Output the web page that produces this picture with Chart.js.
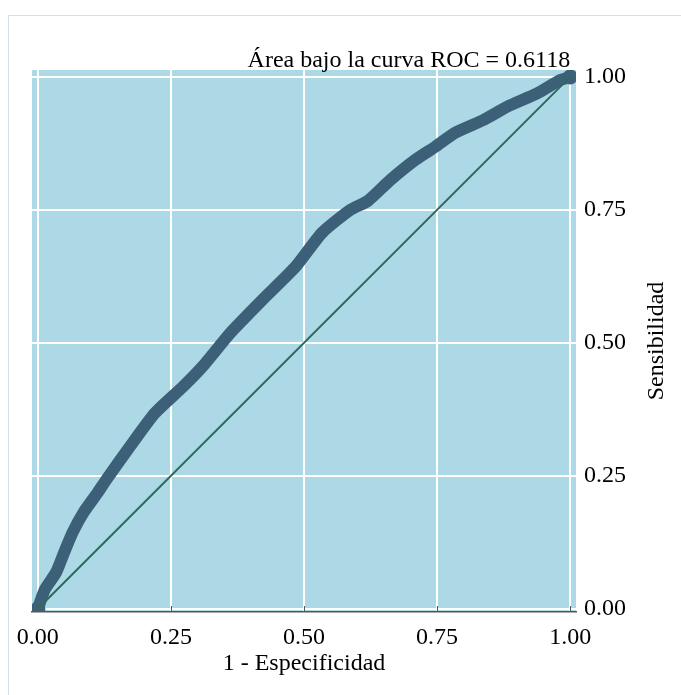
<!DOCTYPE html>
<html lang="es">
<head>
  <meta charset="UTF-8">
  <title>Curva ROC</title>
  <script src="https://cdn.jsdelivr.net/npm/chart.js"></script>
  <style>
    body {
      margin: 0;
      background: #ffffff;
    }
    .frame {
      position: absolute;
      left: 8px;
      top: 15px;
      width: 700px;
      height: 700px;
      border-left: 1px solid #d5dfe9;
      border-top: 1px solid #d5dfe9;
    }
    .chart-box {
      position: absolute;
      left: 0;
      top: 0;
      width: 681px;
      height: 695px;
    }
  </style>
</head>
<body>
  <div class="frame"></div>
  <div class="chart-box">
    <canvas id="rocChart"></canvas>
  </div>

  <script>
    // curve (1 - especificidad, sensibilidad)
    const fpr = [0, 0.013, 0.034, 0.049, 0.065, 0.085, 0.112, 0.128, 0.173, 0.22, 0.272, 0.309, 0.362, 0.422,
                 0.484, 0.534, 0.587, 0.62, 0.662, 0.709, 0.747, 0.784, 0.837, 0.882, 0.938, 0.981, 1];
    const tpr = [0, 0.036, 0.068, 0.105, 0.143, 0.18, 0.218, 0.242, 0.305, 0.368, 0.417, 0.455, 0.519, 0.581,
                 0.643, 0.707, 0.75, 0.767, 0.806, 0.844, 0.869, 0.895, 0.919, 0.944, 0.969, 0.994, 1];
    const diagX = [0, 1];
    const diagY = [0, 1];
    const tickValues = [0, 0.25, 0.5, 0.75, 1];
    const aucText = 'Área bajo la curva ROC = 0.6118';
    const xTitle = '1 - Especificidad';
    const yTitle = 'Sensibilidad';

    const serif = '"Liberation Serif", "DejaVu Serif", serif';

    const rocPoints = fpr.map((x, i) => ({ x: x, y: tpr[i] }));
    const diagPoints = diagX.map((x, i) => ({ x: x, y: diagY[i] }));

    const panelPlugin = {
      id: 'panel',
      beforeDraw(chart) {
        const a = chart.chartArea;
        const ctx = chart.ctx;
        ctx.save();
        ctx.fillStyle = '#add8e6';
        ctx.fillRect(a.left, a.top, a.right - a.left, a.bottom - a.top);
        ctx.restore();
      },
      afterDatasetsDraw(chart) {
        const ctx = chart.ctx;
        const a = chart.chartArea;
        const xs = chart.scales.x;
        // small inward ticks on the bottom axis
        ctx.save();
        ctx.strokeStyle = '#555555';
        ctx.lineWidth = 1;
        tickValues.forEach(v => {
          const px = Math.round(xs.getPixelForValue(v)) + 0.5;
          ctx.beginPath();
          ctx.moveTo(px, a.bottom);
          ctx.lineTo(px, a.bottom - 6);
          ctx.stroke();
        });
        ctx.restore();
      },
      afterDraw(chart) {
        const ctx = chart.ctx;
        const a = chart.chartArea;
        const xs = chart.scales.x;
        ctx.save();
        ctx.fillStyle = '#000000';
        ctx.font = '24px ' + serif;
        ctx.textAlign = 'right';
        ctx.textBaseline = 'alphabetic';
        ctx.fillText(aucText, xs.getPixelForValue(1), a.top - 3);

        ctx.translate(657, (a.top + a.bottom) / 2);
        ctx.rotate(-Math.PI / 2);
        ctx.textAlign = 'center';
        ctx.textBaseline = 'middle';
        ctx.fillText(yTitle, 0, 0);
        ctx.restore();
      }
    };

    new Chart(document.getElementById('rocChart').getContext('2d'), {
      type: 'line',
      data: {
        datasets: [{
          label: 'Azar',
          data: diagPoints,
          borderColor: '#2a6b5a',
          borderWidth: 2,
          pointRadius: 0,
          fill: false
        }, {
          label: 'ROC',
          data: rocPoints,
          borderColor: '#3d6079',
          backgroundColor: '#3d6079',
          borderWidth: 12,
          borderCapStyle: 'round',
          borderJoinStyle: 'round',
          tension: 0.2,
          pointRadius: ctx => (ctx.dataIndex === 0 || ctx.dataIndex === fpr.length - 1) ? 7.5 : 0,
          pointBorderWidth: 0,
          pointBackgroundColor: '#3d6079',
          fill: false
        }]
      },
      options: {
        responsive: true,
        maintainAspectRatio: false,
        animation: false,
        layout: { padding: { top: 70, left: 32, right: 0, bottom: 0 } },
        plugins: {
          legend: { display: false },
          tooltip: { enabled: false }
        },
        scales: {
          x: {
            type: 'linear',
            min: -0.011,
            max: 1.011,
            afterBuildTicks: s => { s.ticks = tickValues.map(v => ({ value: v })); },
            afterFit: s => { s.height = 83; },
            ticks: {
              callback: v => v.toFixed(2),
              color: '#000000',
              font: { family: serif, size: 24 },
              padding: 11,
              maxRotation: 0
            },
            grid: { color: '#ffffff', lineWidth: 2, drawTicks: false },
            border: { display: true, color: '#555555', width: 1.5 },
            title: {
              display: true,
              text: xTitle,
              color: '#000000',
              font: { family: serif, size: 24 },
              padding: { top: 0, bottom: 17 }
            }
          },
          y: {
            type: 'linear',
            position: 'right',
            min: -0.006,
            max: 1.013,
            afterBuildTicks: s => { s.ticks = tickValues.map(v => ({ value: v })); },
            afterFit: s => { s.width = 105; },
            ticks: {
              callback: v => v.toFixed(2),
              color: '#000000',
              font: { family: serif, size: 24 },
              padding: 8
            },
            grid: { color: '#ffffff', lineWidth: 2, drawTicks: false },
            border: { display: false }
          }
        }
      },
      plugins: [panelPlugin]
    });
  </script>
</body>
</html>
